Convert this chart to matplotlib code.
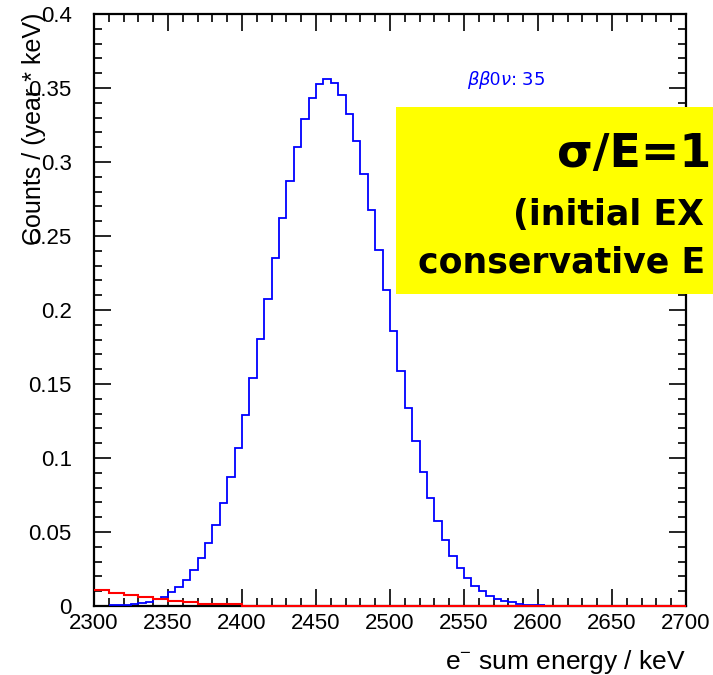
import matplotlib
matplotlib.use("Agg")
import matplotlib.pyplot as plt
import numpy as np
from matplotlib.ticker import MultipleLocator, FuncFormatter

# ---- data ----
# blue: 0vbb signal histogram, 5 keV bins starting at 2310 keV
blue_edges_start = 2310
blue_bin_width = 5
blue_counts = [
    0.0004, 0.0006, 0.0009, 0.0013, 0.0020, 0.0030, 0.0044, 0.0064, 0.0092, 0.0129,
    0.0178, 0.0241, 0.0322, 0.0423, 0.0547, 0.0695, 0.0869, 0.1069, 0.1293, 0.1539,
    0.1803, 0.2076, 0.2352, 0.2622, 0.2875, 0.3101, 0.3290, 0.3433, 0.3525, 0.3560,
    0.3536, 0.3456, 0.3322, 0.3142, 0.2922, 0.2674, 0.2407, 0.2132, 0.1857, 0.1591,
    0.1341, 0.1112, 0.0907, 0.0728, 0.0574, 0.0446, 0.0340, 0.0256, 0.0189, 0.0137,
    0.0098, 0.0070, 0.0050, 0.0035, 0.0024, 0.0016, 0.0010, 0.0007, 0.0004,
]
# red: background histogram, 10 keV bins from 2300 to 2700 keV
red_edges_start = 2300
red_bin_width = 10
red_counts = [
    0.0105, 0.0090, 0.0076, 0.0062, 0.0048, 0.0036, 0.0027, 0.0016, 0.0014, 0.0012,
] + [0.0] * 30

signal_label = r"$\beta\beta0\nu$: 35"
box_lines = ["σ/E=1", "(initial EX", "conservative E"]
x_label = r"e$^{-}$ sum energy / keV"
y_label = "Counts / (year * keV)"

plt.rcParams['font.family'] = ['Liberation Sans', 'DejaVu Sans']
plt.rcParams['mathtext.fontset'] = 'custom'
plt.rcParams['mathtext.rm'] = 'Liberation Sans'
plt.rcParams['mathtext.it'] = 'DejaVu Sans:italic'

W, H = 713, 675
fig = plt.figure(figsize=(W / 100, H / 100), dpi=100)
ax = fig.add_axes([94 / W, 1 - 606 / H, (686 - 94) / W, (606 - 14) / H])

be = blue_edges_start + blue_bin_width * np.arange(len(blue_counts) + 1)
ax.stairs(blue_counts, be, color='#0000ff', lw=1.3, baseline=None, zorder=3)
re = red_edges_start + red_bin_width * np.arange(len(red_counts) + 1)
ax.stairs(red_counts, re, color='#ff0000', lw=1.5, baseline=None, zorder=4,
          clip_on=False)

ax.set_xlim(2300, 2700)
ax.set_ylim(0, 0.4)
ax.xaxis.set_major_locator(MultipleLocator(50))
ax.xaxis.set_minor_locator(MultipleLocator(10))
ax.yaxis.set_major_locator(MultipleLocator(0.05))
ax.yaxis.set_minor_locator(MultipleLocator(0.01))
ax.yaxis.set_major_formatter(FuncFormatter(lambda v, p: f"{v:g}"))
ax.tick_params(which='both', direction='in', top=True, right=True,
               labeltop=False, labelright=False, width=1.2, colors='black')
ax.tick_params(which='major', length=12, labelsize=16, pad=5)
ax.tick_params(which='minor', length=6)
ax.tick_params(axis='y', which='major', pad=16)
for s in ax.spines.values():
    s.set_linewidth(1.6)

fig.text(686 / W, 1 - 662 / H, x_label, ha='right', va='center', fontsize=19)
fig.text(34 / W, 1 - 13 / H, y_label, ha='center', va='top', rotation=90, fontsize=18)

fig.text(506 / W, 1 - 80 / H, signal_label, ha='center', va='center',
         fontsize=13, color='#0000ff', family=['DejaVu Sans'])

# yellow box (extends beyond right figure edge)
fig.patches.append(plt.Rectangle((396 / W, 1 - 294 / H), 1.0, (294 - 107) / H,
                                 transform=fig.transFigure, facecolor='#ffff00',
                                 edgecolor='none', zorder=5))
fig.text(557 / W, 1 - 167 / H, box_lines[0], ha='left', va='baseline',
         fontsize=33, fontweight='bold', family=['DejaVu Sans'], zorder=6)
fig.text(513 / W, 1 - 225 / H, box_lines[1], ha='left', va='baseline',
         fontsize=25, fontweight='bold', family=['DejaVu Sans'], zorder=6)
fig.text(418 / W, 1 - 273 / H, box_lines[2], ha='left', va='baseline',
         fontsize=25, fontweight='bold', family=['DejaVu Sans'], zorder=6)

fig.savefig('out.png', dpi=100)
